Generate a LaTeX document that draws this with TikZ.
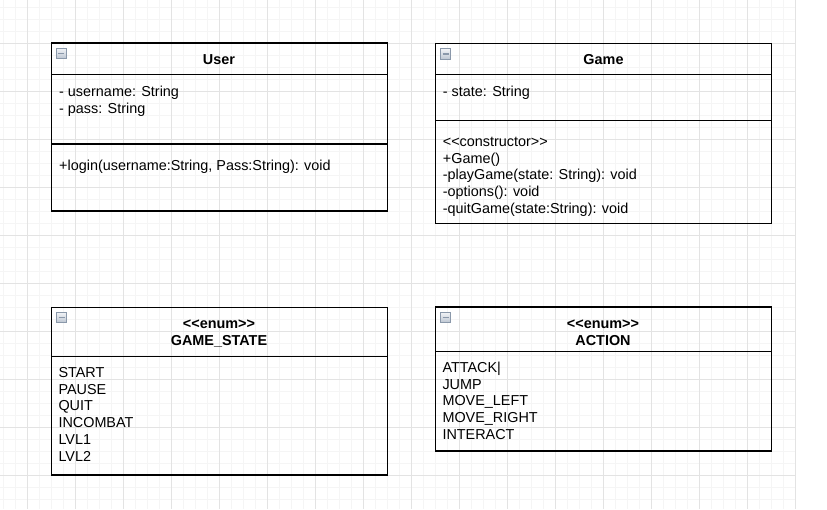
\documentclass[tikz,border=0pt]{standalone}
\usepackage{fontspec}
\setmainfont{Liberation Sans}
\usetikzlibrary{positioning}

\definecolor{foldedge}{HTML}{8A98AA}
\definecolor{foldtop}{HTML}{F2F4F7}
\definecolor{foldbottom}{HTML}{BCC5D1}

% stereotype label, kept apart from any << ligature
\newcommand{\stereo}[1]{<{}<#1>{}>}

\begin{document}
\begin{tikzpicture}[
    x=1pt, y=-1pt,
    minorgrid/.style={draw=black!4, line width=0.8pt},
    majorgrid/.style={draw=black!11, line width=0.8pt},
    header/.style={draw, line width=1.1pt, minimum width=336pt, inner sep=0pt, outer sep=0pt, anchor=north west},
    compart/.style={draw, line width=1.1pt, minimum width=336pt, inner sep=0pt, outer sep=0pt},
    title/.style={anchor=base, inner sep=0pt, align=center, font=\fontsize{14.4}{16.7}\selectfont\bfseries},
    members/.style={anchor=base west, inner sep=0pt, align=left, font=\fontsize{14.4}{16.7}\selectfont},
    fold/.style={draw=foldedge, line width=0.8pt, minimum size=10.5pt, inner sep=0pt, top color=foldtop, bottom color=foldbottom,
        path picture={\draw[line width=1.3pt] ([xshift=-3pt]path picture bounding box.center) -- ([xshift=3pt]path picture bounding box.center);}}
]

% ================= Canvas =================

\useasboundingbox[fill=white] (0,0) rectangle (827,509);
\foreach \gx in {3,15,...,795} \draw[minorgrid] (\gx,0) -- (\gx,509);
\foreach \gy in {7,19,...,507} \draw[minorgrid] (0,\gy) -- (796,\gy);
\foreach \gx in {27,75,...,795} \draw[majorgrid] (\gx,0) -- (\gx,509);
\foreach \gy in {43,91,...,475} \draw[majorgrid] (0,\gy) -- (796,\gy);

% ================= Classes =================

% User
\node[header, minimum height=31.3pt] (user) at (51.3,43) {};
\node[compart, minimum height=69.7pt, below=0pt of user] (user-attr) {};
\node[compart, minimum height=67pt, below=0pt of user-attr] (user-ops) {};
\node[fold] (user-fold) at (61.3,53.3) {};

% Game
\node[header, minimum height=31pt] (game) at (435.7,43.3) {};
\node[compart, minimum height=46pt, below=0pt of game] (game-attr) {};
\node[compart, minimum height=103pt, below=0pt of game-attr] (game-ops) {};
\node[fold] (game-fold) at (445.5,54) {};

% ================= Enums =================

% GAME_STATE
\node[header, minimum height=49.4pt] (state) at (51.3,307.3) {};
\node[compart, minimum height=118.3pt, below=0pt of state] (state-items) {};
\node[fold] (state-fold) at (61.6,317.5) {};

% ACTION
\node[header, minimum height=44.7pt] (action) at (435.7,307) {};
\node[compart, minimum height=99.3pt, below=0pt of action] (action-items) {};
\node[fold] (action-fold) at (445.5,317.5) {};

% ================= Titles =================
% (base = baseline of the last line)

\node[title] (user-title) at (219,64.3) {User};
\node[title] (game-title) at (603.5,64.3) {Game};
\node[title] (state-title) at (219,345) {\stereo{enum}\\GAME\_STATE};
\node[title] (action-title) at (603,345) {\stereo{enum}\\ACTION};

% ================= Members =================

\node[members] (user-attr-txt) at (59,113.4) {- username: String\\- pass: String};
\node[members] (user-ops-txt) at (59,170) {+login(username:String, Pass:String): void};

\node[members] (game-attr-txt) at (442.7,96.7) {- state: String};
\node[members] (game-ops-txt) at (442.7,213.3) {\stereo{constructor}\\+Game()\\-playGame(state: String): void\\-options(): void\\-quitGame(state:String): void};

\node[members] (state-items-txt) at (58.3,461) {START\\PAUSE\\QUIT\\INCOMBAT\\LVL1\\LVL2};
\node[members] (action-items-txt) at (442.3,439.3) {ATTACK\textbar\\JUMP\\MOVE\_LEFT\\MOVE\_RIGHT\\INTERACT};

\end{tikzpicture}
\end{document}
